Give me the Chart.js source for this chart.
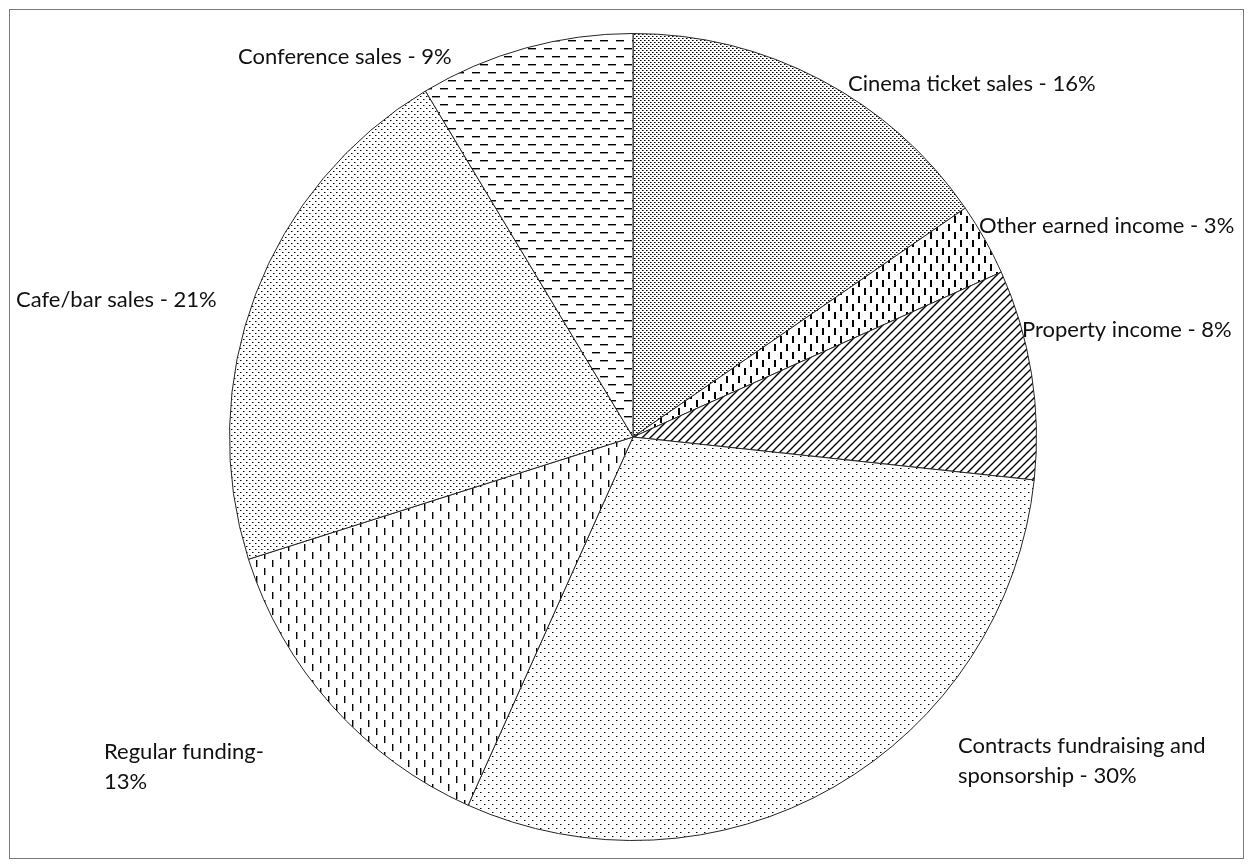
<!DOCTYPE html>
<html>
<head>
<meta charset="utf-8">
<title>Income breakdown</title>
<script src="https://cdn.jsdelivr.net/npm/chart.js@4.4.0/dist/chart.umd.min.js"></script>
<style>
  html, body { margin: 0; padding: 0; background: #fff; }
  #grafico { display: block; }
</style>
</head>
<body>
<canvas id="grafico" width="1253" height="868"></canvas>
<script>
// data - slice sizes (labels keep their own rounded text)
const categories = ['Cinema ticket sales', 'Other earned income', 'Property income',
  'Contracts fundraising and sponsorship', 'Regular funding', 'Cafe/bar sales', 'Conference sales'];
const shares = [15.4, 2.9, 8.4, 30.0, 13.4, 21.3, 8.6];
const labelLines = [
  ['Cinema ticket sales - 16%'],
  ['Other earned income - 3%'],
  ['Property income - 8%'],
  ['Contracts fundraising and', 'sponsorship - 30%'],
  ['Regular funding-', '13%'],
  ['Cafe/bar sales - 21%'],
  ['Conference sales - 9%']
];
// where each label sits (left edge, middle of first line)
const labelPos = [[848, 84], [979, 226], [1022, 330], [958, 746], [104, 752], [16, 300], [238, 57]];

const canvas = document.getElementById('grafico');
const ctx = canvas.getContext('2d');

// small tiles used as Excel-like pattern fills
function pattern(w, h, draw) {
    const c = document.createElement('canvas');
    c.width = w;
    c.height = h;
    const g = c.getContext('2d');
    g.fillStyle = '#fff';
    g.fillRect(0, 0, w, h);
    draw(g);
    return ctx.createPattern(c, 'repeat');
}

const fills = [
    // cinema - dense dots
    pattern(4, 4, g => {
        g.fillStyle = '#000';
        g.fillRect(0, 0, 1, 1);
        g.fillRect(2, 2, 1, 1);
        g.fillStyle = '#777';
        g.fillRect(1, 0, 1, 1);
        g.fillRect(3, 2, 1, 1);
    }),
    // other earned - heavy vertical dashes
    pattern(12, 16, g => {
        g.fillStyle = '#000';
        g.fillRect(0, 0, 2, 7);
        g.fillRect(6, 8, 2, 7);
    }),
    // property - diagonal stripes
    pattern(8, 8, g => {
        g.strokeStyle = '#000';
        g.lineWidth = 1.4;
        g.beginPath();
        g.moveTo(-1, 9); g.lineTo(9, -1);
        g.moveTo(-1, 1); g.lineTo(1, -1);
        g.moveTo(7, 9); g.lineTo(9, 7);
        g.stroke();
    }),
    // contracts - sparse dots
    pattern(8, 8, g => {
        g.fillStyle = '#000';
        g.fillRect(0, 0, 1, 1);
        g.fillRect(4, 4, 1, 1);
        g.fillStyle = '#888';
        g.fillRect(1, 0, 1, 1);
        g.fillRect(5, 4, 1, 1);
    }),
    // regular funding - vertical dashes
    pattern(16, 16, g => {
        g.fillStyle = '#000';
        g.fillRect(0, 0, 1, 7);
        g.fillRect(8, 8, 1, 7);
        g.fillStyle = '#999';
        g.fillRect(1, 0, 1, 7);
        g.fillRect(9, 8, 1, 7);
    }),
    // cafe/bar - dots
    pattern(6, 6, g => {
        g.fillStyle = '#000';
        g.fillRect(0, 0, 1, 1);
        g.fillRect(3, 3, 1, 1);
        g.fillStyle = '#888';
        g.fillRect(1, 0, 1, 1);
        g.fillRect(4, 3, 1, 1);
    }),
    // conference - horizontal dashes
    pattern(16, 16, g => {
        g.fillStyle = '#000';
        g.fillRect(0, 0, 8, 1);
        g.fillRect(8, 8, 8, 1);
        g.fillStyle = '#999';
        g.fillRect(0, 1, 8, 1);
        g.fillRect(8, 9, 8, 1);
    })
];

const frame = {
    id: 'frame',
    beforeDraw(chart) {
        const c = chart.ctx;
        c.save();
        c.strokeStyle = '#7a7a7a';
        c.lineWidth = 1;
        c.strokeRect(9.5, 9.5, 1234, 849);
        c.restore();
    }
};

const sliceLabels = {
    id: 'sliceLabels',
    afterDraw(chart) {
        const c = chart.ctx;
        c.save();
        c.font = '22px Lato';
        c.fillStyle = '#111';
        c.textBaseline = 'middle';
        c.textAlign = 'left';
        labelLines.forEach((lines, i) => {
            lines.forEach((t, j) => {
                c.fillText(t, labelPos[i][0], labelPos[i][1] + j * 30);
            });
        });
        c.restore();
    }
};

function desenhar() {
    new Chart(ctx, {
        type: 'pie',
        data: {
            labels: categories,
            datasets: [{
                data: shares,
                backgroundColor: fills,
                borderColor: '#262626',
                borderWidth: 1
            }]
        },
        options: {
            responsive: false,
            animation: false,
            layout: {
                padding: { left: 229, right: 216, top: 33, bottom: 27 }
            },
            plugins: {
                legend: { display: false },
                tooltip: { enabled: false }
            }
        },
        plugins: [frame, sliceLabels]
    });
}

document.fonts.load('22px Lato').then(desenhar, desenhar);
</script>
</body>
</html>
